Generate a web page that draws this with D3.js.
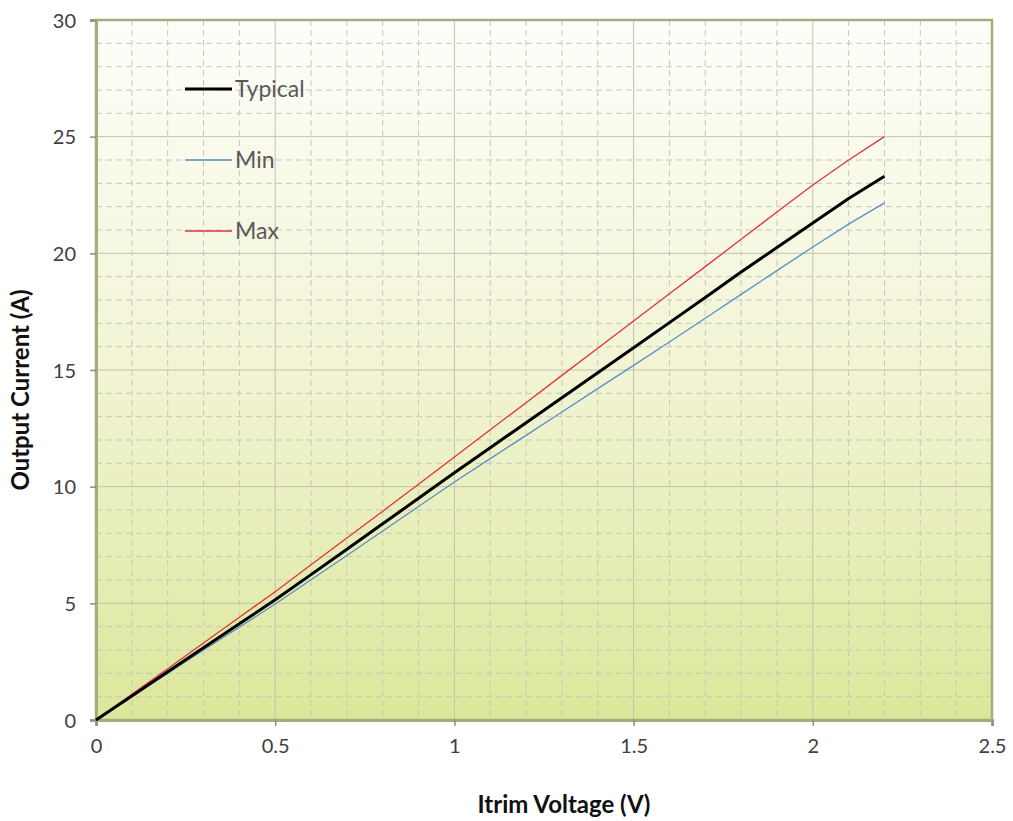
<!DOCTYPE html>
<html><head><meta charset="utf-8">
<script src="https://cdn.jsdelivr.net/npm/d3@7"></script>
<style>body{margin:0;background:#fff;} text{font-family:Lato,"Open Sans",sans-serif;}</style>
</head><body>
<svg id="c" width="1013" height="821"></svg>
<script>
const xValues = [0,0.1,0.2,0.3,0.4,0.5,0.6,0.7,0.8,0.9,1.0,1.1,1.2,1.3,1.4,1.5,1.6,1.7,1.8,1.9,2.0,2.1,2.2];
const typical = [0,1.03,2.07,3.1,4.12,5.15,6.23,7.32,8.41,9.5,10.6,11.67,12.74,13.81,14.88,15.95,17.03,18.11,19.2,20.25,21.3,22.35,23.3];
const minVals = [0,1.0,2.0,3.0,3.98,4.97,6.01,7.05,8.1,9.15,10.2,11.2,12.2,13.2,14.2,15.2,16.2,17.22,18.24,19.26,20.27,21.25,22.16];
const maxVals = [0,1.1,2.2,3.3,4.4,5.5,6.65,7.8,8.95,10.1,11.27,12.44,13.6,14.77,15.93,17.1,18.27,19.43,20.6,21.77,22.93,24.0,25.0];
const seriesNames = ["Typical","Min","Max"];
const xTicks = [0,0.5,1,1.5,2,2.5];
const yTicks = [0,5,10,15,20,25,30];

const svg = d3.select("#c");
const L=96,R=992,T=20,B=720;
const x = d3.scaleLinear().domain([0,2.5]).range([L,R]);
const y = d3.scaleLinear().domain([0,30]).range([B,T]);

const defs = svg.append("defs");
const g = defs.append("linearGradient").attr("id","bg").attr("x1",0).attr("y1",0).attr("x2",0).attr("y2",1);
g.append("stop").attr("offset","0%").attr("stop-color","#fefefa");
g.append("stop").attr("offset","50%").attr("stop-color","#f2f4d4");
g.append("stop").attr("offset","100%").attr("stop-color","#dce79a");
svg.append("rect").attr("x",L).attr("y",T).attr("width",R-L).attr("height",B-T).attr("fill","url(#bg)");

// minor grid
const minorX = d3.range(0,2.5001,0.1).filter(v=>Math.abs(v*2-Math.round(v*2))>1e-6);
const minorY = d3.range(0,30.001,1).filter(v=>v%5!==0);
svg.append("g").selectAll("line").data(minorX).join("line")
  .attr("x1",d=>x(d)).attr("x2",d=>x(d)).attr("y1",T).attr("y2",B)
  .attr("stroke","#c9c9b8").attr("stroke-width",1).attr("stroke-dasharray","6,4");
svg.append("g").selectAll("line").data(minorY).join("line")
  .attr("y1",d=>y(d)).attr("y2",d=>y(d)).attr("x1",L).attr("x2",R)
  .attr("stroke","#c9c9b8").attr("stroke-width",1).attr("stroke-dasharray","6,4");
// major grid
svg.append("g").selectAll("line").data(xTicks.slice(1,-1)).join("line")
  .attr("x1",d=>x(d)).attr("x2",d=>x(d)).attr("y1",T).attr("y2",B)
  .attr("stroke","#c2c2ae").attr("stroke-width",1);
svg.append("g").selectAll("line").data(yTicks.slice(1,-1)).join("line")
  .attr("y1",d=>y(d)).attr("y2",d=>y(d)).attr("x1",L).attr("x2",R)
  .attr("stroke","#c2c2ae").attr("stroke-width",1);

// border
svg.append("rect").attr("x",L).attr("y",T).attr("width",R-L).attr("height",B-T)
  .attr("fill","none").attr("stroke","#a4ad7c").attr("stroke-width",2.5);

// axes
const xAxis = svg.append("g").attr("transform",`translate(0,${B})`)
  .call(d3.axisBottom(x).tickValues(xTicks).tickFormat(d=>String(d)).tickSize(6).tickPadding(13));
const yAxis = svg.append("g").attr("transform",`translate(${L},0)`)
  .call(d3.axisLeft(y).tickValues(yTicks).tickSize(6).tickPadding(14));
[xAxis,yAxis].forEach(a=>{
  a.select(".domain").attr("stroke","#a4ad7c").attr("stroke-width",3);
  a.selectAll(".tick line").attr("stroke","#8c8c80").attr("stroke-width",1.5);
  a.selectAll(".tick text").attr("fill","#404040").style("font-size","20px");
});
yAxis.selectAll(".tick text").attr("dy","0.35em");

// lines
const line = d3.line().x((d,i)=>x(xValues[i])).y(d=>y(d));
const series = [
  {name:"Min",vals:minVals,color:"#5b8ec9",w:1.3},
  {name:"Max",vals:maxVals,color:"#e0323c",w:1.3},
  {name:"Typical",vals:typical,color:"#000000",w:3}
];
series.forEach(s=>{
  svg.append("path").datum(s.vals).attr("d",line).attr("fill","none")
    .attr("stroke",s.color).attr("stroke-width",s.w).attr("stroke-linejoin","round");
});

// legend
const legY = [89,160,231];
const legColor = {"Typical":"#000000","Min":"#5b8ec9","Max":"#e0323c"};
const legW = {"Typical":3,"Min":1.3,"Max":1.3};
seriesNames.forEach((n,i)=>{
  svg.append("line").attr("x1",185).attr("x2",232).attr("y1",legY[i]).attr("y2",legY[i])
    .attr("stroke",legColor[n]).attr("stroke-width",legW[n]);
  svg.append("text").attr("x",235).attr("y",legY[i]).attr("dy","0.35em")
    .attr("fill","#595959").style("font-size","23px").text(n);
});

// titles
svg.append("text").attr("x",564).attr("y",813).attr("text-anchor","middle")
  .style("font-size","24px").style("font-weight","bold").attr("fill","#111").text("Itrim Voltage (V)");
svg.append("text").attr("transform","translate(29,390) rotate(-90)").attr("text-anchor","middle")
  .style("font-size","24px").style("font-weight","bold").attr("fill","#111").text("Output Current (A)");
</script>
</body></html>
